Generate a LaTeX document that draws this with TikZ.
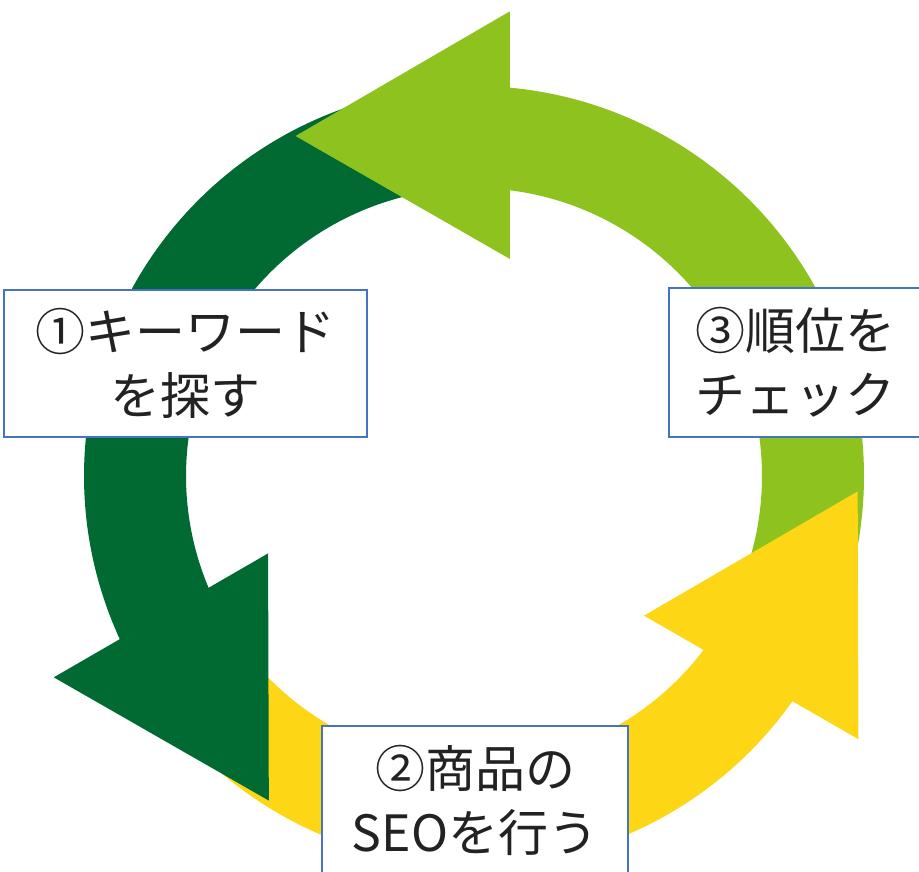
\documentclass[tikz,border=0pt]{standalone}
\usepackage{fontspec}
\newfontfamily\jpfont{Noto Sans CJK JP}
\definecolor{dkgreen}{HTML}{006A32}
\definecolor{ltgreen}{HTML}{8DC21F}
\definecolor{ylw}{HTML}{FDD615}
\definecolor{boxblue}{HTML}{4472C4}
\definecolor{txt}{HTML}{222222}
\begin{document}
\begin{tikzpicture}[x=1pt,y=1pt,
  box/.style={draw=boxblue, line width=1.2pt, fill=white, inner sep=0pt,
    align=center, text=txt, font=\jpfont\fontsize{50}{64}\selectfont}]
\useasboundingbox (0,0) rectangle (919,-872);
\clip (0,0) rectangle (919,-872);
\begin{scope}[shift={(474,-476)}]
  % shafts
  \fill[dkgreen] (95:390pt) arc[start angle=95, end angle=204.8, radius=390pt]
     -- (204.8:288pt) arc[start angle=204.8, end angle=95, radius=288pt] -- cycle;
  \fill[ylw] (215:390pt) arc[start angle=215, end angle=324.8, radius=390pt]
     -- (324.8:288pt) arc[start angle=324.8, end angle=215, radius=288pt] -- cycle;
  \fill[ltgreen] (335:390pt) arc[start angle=335, end angle=444.8, radius=390pt]
     -- (444.8:288pt) arc[start angle=444.8, end angle=335, radius=288pt] -- cycle;
  % heads
  \fill[dkgreen] (200.6:220pt) -- (205.6:466pt) -- (237.7:384pt) -- cycle;
  \fill[ylw] (320.6:220pt) -- (325.6:466pt) -- (357.7:384pt) -- cycle;
  \fill[ltgreen] (80.6:220pt) -- (85.6:466pt) -- (117.7:384pt) -- cycle;
\end{scope}
\node[box, minimum width=363pt, minimum height=147pt] (kw) at (185.5,-363.5) {①キーワード\\を探す};
\node[box, minimum width=306pt, minimum height=149pt] (seo) at (475,-800.5) {②商品の\\SEOを行う};
\node[box, minimum width=252pt, minimum height=149pt] (rank) at (795,-362.5) {③順位を\\チェック};
\end{tikzpicture}
\end{document}
